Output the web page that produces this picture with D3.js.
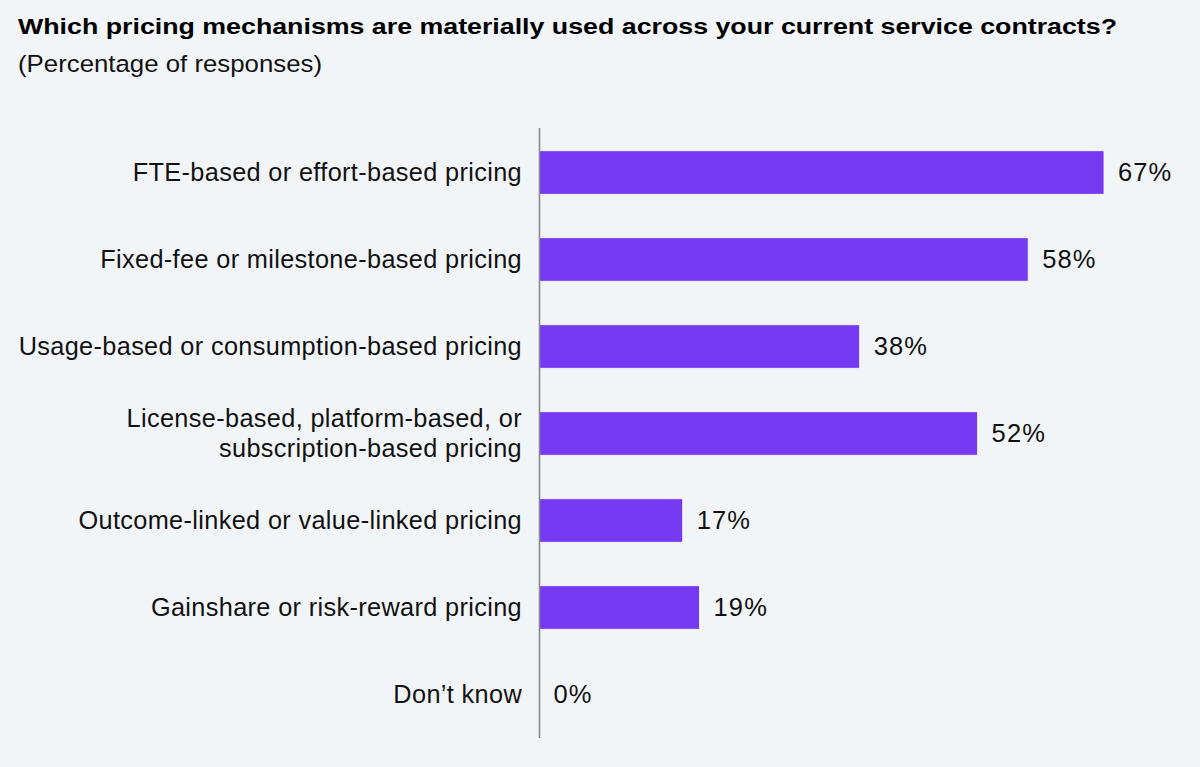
<!DOCTYPE html>
<html><head><meta charset="utf-8">
<script src="https://cdn.jsdelivr.net/npm/d3@7"></script>
<style>
html,body{margin:0;padding:0;background:#f2f5f8;}
svg{display:block;font-family:"Liberation Sans",Arial,Helvetica,sans-serif;}
</style></head>
<body>
<svg id="chart" width="1200" height="767"></svg>
<script>
const categories = [
  ["FTE-based or effort-based pricing"],
  ["Fixed-fee or milestone-based pricing"],
  ["Usage-based or consumption-based pricing"],
  ["License-based, platform-based, or", "subscription-based pricing"],
  ["Outcome-linked or value-linked pricing"],
  ["Gainshare or risk-reward pricing"],
  ["Don\u2019t know"]
];
const values = [67, 58, 38, 52, 17, 19, 0];
const titleText = "Which pricing mechanisms are materially used across your current service contracts?";
const subtitleText = "(Percentage of responses)";

const svg = d3.select("#chart");
svg.append("rect").attr("width",1200).attr("height",767).attr("fill","#f2f5f8");

svg.append("text").attr("x",18).attr("y",34).attr("font-size",22.5).attr("font-weight","bold")
  .attr("fill","#000").text(titleText)
  .attr("textLength",1099).attr("lengthAdjust","spacingAndGlyphs");
svg.append("text").attr("x",18).attr("y",72).attr("font-size",24.5)
  .attr("fill","#111").text(subtitleText)
  .attr("textLength",304).attr("lengthAdjust","spacingAndGlyphs");

const x0 = 539.5;
const x = d3.scaleLinear().domain([0, 67]).range([x0, 1104]);
const idx = d3.range(categories.length);
const y = d3.scaleBand().domain(idx).range([129, 738]).paddingInner(0.5).paddingOuter(0.25);

svg.selectAll("rect.bar").data(idx).enter().append("rect")
  .attr("class","bar")
  .attr("x", x(0))
  .attr("y", i => y(i))
  .attr("width", i => x(values[i]) - x(0))
  .attr("height", y.bandwidth())
  .attr("fill","#7439f0")
  .attr("stroke","#ffffff").attr("stroke-width",0.8);

svg.append("line").attr("x1",x0).attr("x2",x0).attr("y1",128).attr("y2",738)
  .attr("stroke","#8a8a8a").attr("stroke-width",1.6);

const lab = svg.selectAll("text.cat").data(idx).enter().append("text")
  .attr("class","cat")
  .attr("text-anchor","end")
  .attr("font-size",25.3)
  .attr("letter-spacing",0.35)
  .attr("fill","#111");
lab.each(function(i){
  const lines = categories[i];
  const cy = y(i) + y.bandwidth()/2;
  const lh = 30;
  lines.forEach((l, k) => {
    d3.select(this).append("tspan")
      .attr("x", 522)
      .attr("y", cy + (k - (lines.length-1)/2) * lh)
      .attr("dy","0.35em")
      .text(l);
  });
});

svg.selectAll("text.val").data(idx).enter().append("text")
  .attr("class","val")
  .attr("x", i => x(values[i]) + 14)
  .attr("y", i => y(i) + y.bandwidth()/2)
  .attr("dy","0.35em")
  .attr("font-size",25.5)
  .attr("letter-spacing",1.1)
  .attr("fill","#111")
  .text(i => values[i] + "%");
</script>
</body></html>
